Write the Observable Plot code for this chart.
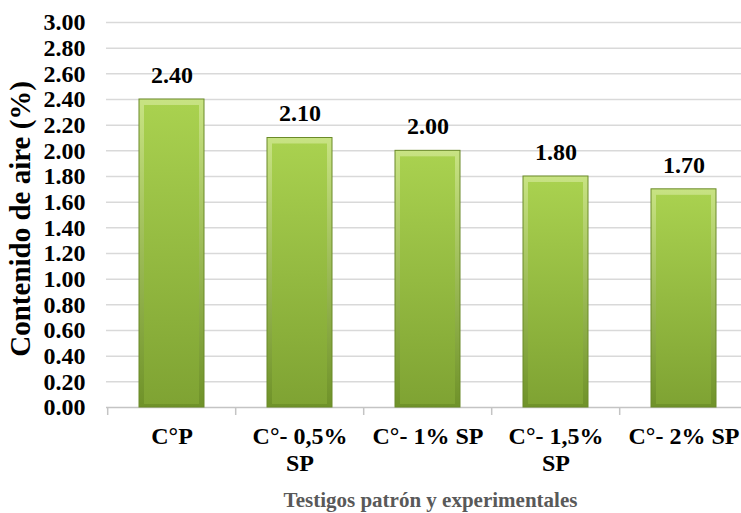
<!DOCTYPE html>
<html>
<head>
<meta charset="utf-8">
<script src="https://cdn.jsdelivr.net/npm/d3@7"></script>
<script src="https://cdn.jsdelivr.net/npm/@observablehq/plot@0.6"></script>
<style>
  body { margin: 0; background: #fff; }
  svg { font-family: "Liberation Serif", "Times New Roman", serif; }
</style>
</head>
<body>
<div id="chart"></div>
<script>
// Air content per specimen group
const categories = ["C°P", "C°- 0,5%\nSP", "C°- 1% SP", "C°- 1,5%\nSP", "C°- 2% SP"];
const values = [2.40, 2.10, 2.00, 1.80, 1.70];
const yTicks = [0, 0.2, 0.4, 0.6, 0.8, 1.0, 1.2, 1.4, 1.6, 1.8, 2.0, 2.2, 2.4, 2.6, 2.8, 3.0];
const yTitle = "Contenido de aire (%)";
const xTitle = "Testigos patrón y experimentales";

const data = categories.map((category, i) => ({category, value: values[i]}));

const halfStep = 64.3; // half of one category band, for the separator ticks

const chart = Plot.plot({
  width: 741,
  height: 513,
  marginTop: 22,
  marginBottom: 106,
  marginLeft: 106,
  marginRight: 0,
  style: {background: "#fff", overflow: "hidden"},
  x: {domain: categories, range: [106, 749], paddingInner: 0.49, paddingOuter: 0.245, axis: null},
  y: {domain: [0, 3], axis: null},
  marks: [
    // horizontal gridlines
    Plot.ruleY(yTicks.filter(t => t > 0), {stroke: "#d9d9d9", strokeWidth: 1.5}),
    // baseline and category separators
    Plot.ruleY([0], {stroke: "#c4c4c4", strokeWidth: 1.5}),
    Plot.ruleX(categories, {x: d => d, y1: 0, y2: 0, insetBottom: -8, dx: -halfStep, stroke: "#c4c4c4", strokeWidth: 1.5}),
    // y tick labels
    Plot.text(yTicks, {
      y: d => d, text: d => d.toFixed(2), frameAnchor: "left", textAnchor: "end", lineAnchor: "middle",
      dx: -21, fontSize: 24, fontWeight: "bold", fill: "#000"
    }),
    // bars: bevelled outer body plus inner face
    Plot.barY(data, {x: "category", y: "value", fill: "url(#barOuter)", stroke: "#6a8a28", strokeWidth: 1}),
    Plot.barY(data, {x: "category", y: "value", fill: "url(#barInner)", insetLeft: 5, insetRight: 5, insetTop: 6, insetBottom: 3}),
    // value labels
    Plot.text(data, {
      x: "category", y: "value", text: d => d.value.toFixed(2), dy: -24.5, lineAnchor: "middle",
      fontSize: 24, fontWeight: "bold", fill: "#000"
    }),
    // category labels
    Plot.text(data, {
      x: "category", y: 0, text: "category", lineAnchor: "top", dy: 18, lineHeight: 1.1,
      fontSize: 24, fontWeight: "bold", fill: "#000"
    }),
    // axis titles
    Plot.text([yTitle], {
      y: 1.47, text: d => d, frameAnchor: "left", textAnchor: "middle", lineAnchor: "middle",
      dx: -86, rotate: -90, fontSize: 29, fontWeight: "bold", fill: "#000"
    }),
    Plot.text([xTitle], {
      text: d => d, frameAnchor: "bottom-left", textAnchor: "middle", lineAnchor: "middle",
      dx: 324, dy: 93, fontSize: 21, fontWeight: "bold", fill: "#595959"
    })
  ]
});

// gradients used by the bars
const defs = d3.select(chart).insert("defs", ":first-child");
const outer = defs.append("linearGradient").attr("id", "barOuter").attr("x1", 0).attr("y1", 0).attr("x2", 0).attr("y2", 1);
outer.append("stop").attr("offset", "0%").attr("stop-color", "#c8e383");
outer.append("stop").attr("offset", "100%").attr("stop-color", "#6f9229");
const inner = defs.append("linearGradient").attr("id", "barInner").attr("x1", 0).attr("y1", 0).attr("x2", 0).attr("y2", 1);
inner.append("stop").attr("offset", "0%").attr("stop-color", "#a9d14f");
inner.append("stop").attr("offset", "100%").attr("stop-color", "#7fa333");

document.getElementById("chart").appendChild(chart);
</script>
</body>
</html>
